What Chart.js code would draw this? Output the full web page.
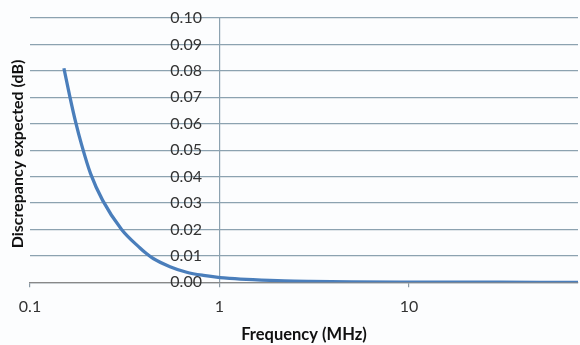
<!DOCTYPE html>
<html>
<head>
<meta charset="utf-8">
<script src="https://cdn.jsdelivr.net/npm/chart.js@4/dist/chart.umd.min.js"></script>
<style>
  html, body { margin: 0; padding: 0; background: #fcfdfe; }
  #wrap { width: 580px; height: 345px; position: relative; }
</style>
</head>
<body>
<div id="wrap"><canvas id="c"></canvas></div>
<script>
// Data
const frequencies = [0.151, 0.1626, 0.1743, 0.1873, 0.209, 0.2418, 0.3044, 0.3806, 0.413, 0.447, 0.548, 0.671, 0.822, 1.006, 1.135, 1.5, 2.2, 3, 5, 10, 30, 78];
const discrepancy = [0.081, 0.070, 0.0605, 0.052, 0.041, 0.031, 0.020, 0.0130, 0.0108, 0.0090, 0.0059, 0.0038, 0.0026, 0.0018, 0.0015, 0.0010, 0.0005, 0.0003, 0.00012, 0.00005, 0.00001, 0.0];
const xTickValues = [0.1, 1, 10];
const xTickLabels = ['0.1', '1', '10'];
const yAxisAt = 1;          // x value where the vertical axis crosses
const yLabelAnchor = 0.808; // x value where y tick labels are right-aligned
const yTitle = 'Discrepancy expected (dB)';
const xTitle = 'Frequency (MHz)';

const points = frequencies.map((f, i) => ({ x: f, y: discrepancy[i] }));
const gridColor = '#8ca2b0';

const yTitlePlugin = {
  id: 'yTitle',
  afterDraw(chart) {
    const ctx = chart.ctx;
    ctx.save();
    ctx.translate(18, 154);
    ctx.rotate(-Math.PI / 2);
    ctx.font = 'bold 16px Lato';
    ctx.fillStyle = '#111';
    ctx.textAlign = 'center';
    ctx.textBaseline = 'middle';
    ctx.fillText(yTitle, 0, 0);
    ctx.restore();
  }
};

new Chart(document.getElementById('c'), {
  type: 'line',
  data: {
    datasets: [{
      data: points,
      borderColor: '#4a7ebb',
      borderWidth: 3.3,
      pointRadius: 0,
      fill: false,
      cubicInterpolationMode: 'monotone'
    }]
  },
  options: {
    responsive: true,
    maintainAspectRatio: false,
    animation: false,
    layout: { padding: { left: 30, right: 2, top: 18, bottom: 2 } },
    plugins: { legend: { display: false }, tooltip: { enabled: false } },
    scales: {
      x: {
        type: 'logarithmic',
        min: 0.1,
        max: 78,
        afterBuildTicks(scale) {
          scale.ticks = xTickValues.map(v => ({ value: v }));
        },
        ticks: {
          autoSkip: false,
          maxRotation: 0,
          padding: 10,
          color: '#333',
          font: { family: 'Lato', size: 16 },
          callback(value) {
            const i = xTickValues.indexOf(value);
            return i >= 0 ? xTickLabels[i] : '';
          }
        },
        grid: {
          drawOnChartArea: true,
          drawTicks: true,
          tickLength: 5,
          color: (ctx) => (ctx.tick && ctx.tick.value === yAxisAt) ? gridColor : 'rgba(0,0,0,0)',
          tickColor: '#8a9aa6',
          lineWidth: 1.2
        },
        border: { display: true, color: '#888', width: 1.3 },
        title: {
          display: true,
          text: xTitle,
          color: '#111',
          font: { family: 'Lato', size: 16.5, weight: 'bold', lineHeight: 1 },
          padding: { top: 0, bottom: 0 }
        }
      },
      y: {
        position: { x: yLabelAnchor },
        min: 0,
        max: 0.1,
        ticks: {
          stepSize: 0.01,
          padding: 0,
          color: '#333',
          font: { family: 'Lato', size: 16 },
          callback(value) { return Number(value).toFixed(2); }
        },
        grid: {
          drawTicks: false,
          color: gridColor,
          lineWidth: 1.2
        },
        border: { display: false }
      }
    }
  },
  plugins: [yTitlePlugin]
});
</script>
</body>
</html>
